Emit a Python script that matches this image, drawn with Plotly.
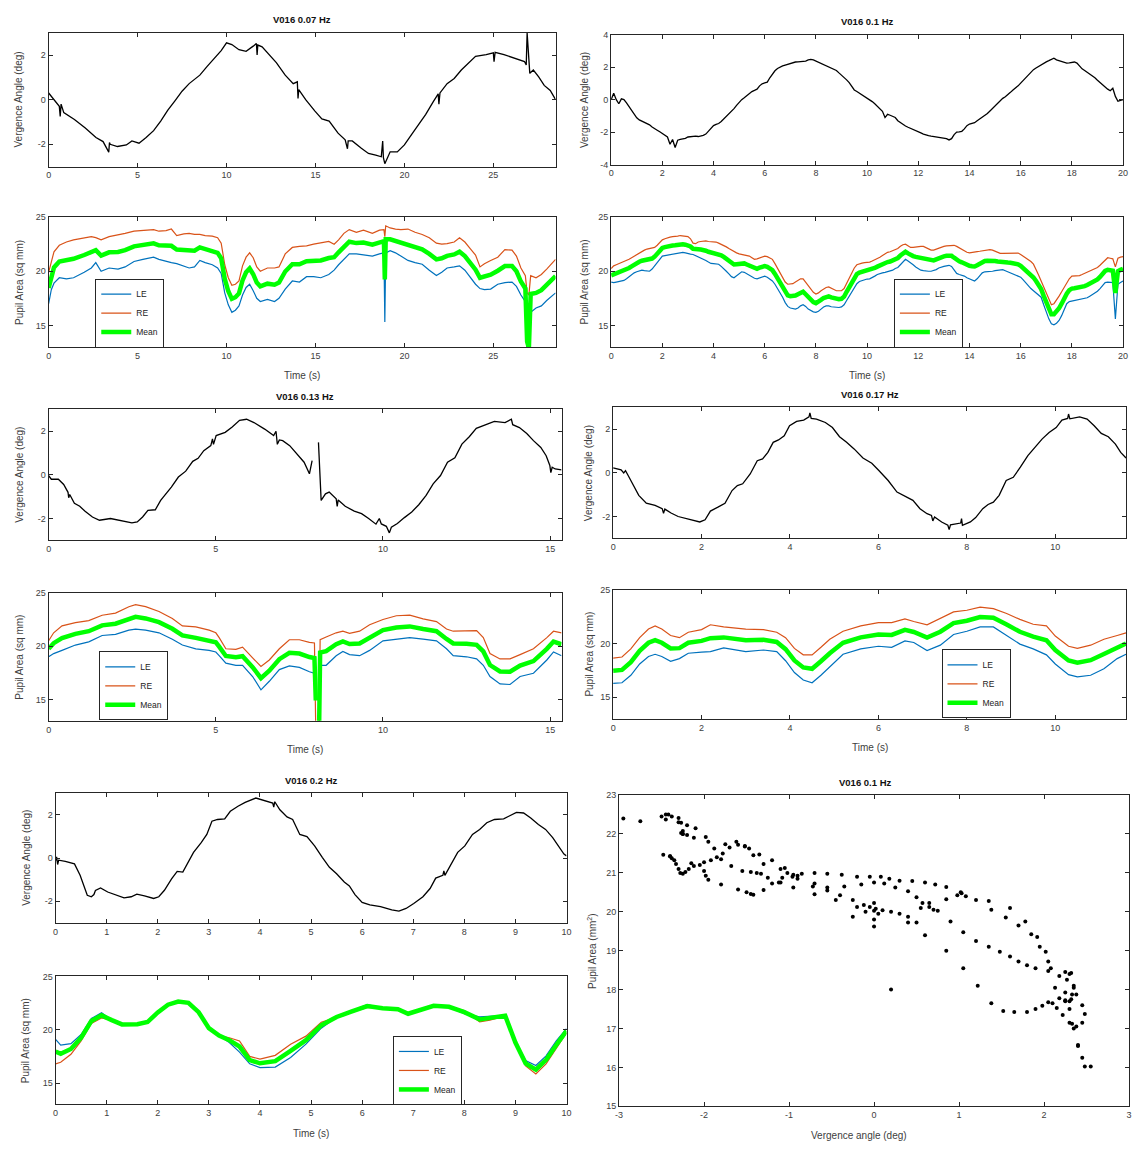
import math
import plotly.graph_objects as go

# ----------------------------------------------------------------- data
# Vergence traces: (time s, vergence deg)
VERG_007 = [(0.0, 0.3), (0.3, 0.0), (0.6, -0.3), (0.65, -0.75), (0.7, -0.2), (0.85, -0.58), (1.45, -0.89),
            (2.06, -1.27), (2.66, -1.7), (3.06, -1.88), (3.38, -2.35), (3.42, -1.92), (3.46, -2.0), (3.87, -2.1),
            (4.37, -2.03), (4.68, -1.85), (5.08, -1.95), (5.48, -1.7), (5.9, -1.39), (6.3, -0.96), (6.7, -0.47),
            (7.1, -0.05), (7.5, 0.38), (7.9, 0.72), (8.5, 1.1), (8.9, 1.48), (9.3, 1.86), (9.7, 2.2), (10.0, 2.55),
            (10.3, 2.47), (10.7, 2.24), (11.1, 2.17), (11.5, 2.4), (11.68, 2.52), (11.72, 2.0), (11.76, 2.45),
            (12.0, 2.37), (12.4, 2.0), (12.8, 1.66), (13.3, 1.1), (13.75, 0.72), (13.98, 0.8), (14.02, 0.05),
            (14.06, 0.45), (14.45, 0.0), (14.96, -0.5), (15.36, -0.86), (15.77, -0.96), (16.27, -1.5),
            (16.67, -1.8), (16.8, -2.2), (16.84, -1.85), (17.07, -1.85), (17.58, -2.18), (17.98, -2.41),
            (18.39, -2.49), (18.7, -2.56), (18.78, -1.85), (18.82, -2.6), (18.9, -2.87), (19.2, -2.34),
            (19.6, -2.34), (20.0, -2.03), (20.4, -1.57), (20.8, -1.11), (21.2, -0.66), (21.6, -0.12), (21.9, 0.26),
            (21.94, -0.2), (22.0, 0.3), (22.4, 0.72), (22.8, 0.95), (23.2, 1.33), (23.6, 1.63), (24.0, 1.94),
            (24.6, 2.02), (25.0, 2.1), (25.04, 1.7), (25.1, 2.12), (25.6, 2.02), (26.25, 1.86), (26.75, 1.71),
            (26.85, 1.56), (26.9, 3.0), (27.05, 1.18), (27.25, 1.33), (27.55, 1.02), (27.86, 0.64), (28.2, 0.41),
            (28.5, 0.0)]

VERG_013 = [(0.0, -0.03), (0.08, -0.2), (0.29, -0.2), (0.45, -0.44), (0.58, -0.8), (0.6, -1.05), (0.63, -0.9),
            (0.77, -1.3), (0.93, -1.44), (1.09, -1.67), (1.31, -1.93), (1.52, -2.08), (1.85, -2.0), (2.17, -2.11),
            (2.49, -2.2), (2.65, -2.16), (2.81, -1.93), (2.97, -1.63), (3.19, -1.6), (3.35, -1.17), (3.51, -0.87),
            (3.67, -0.56), (3.88, -0.1), (4.1, 0.17), (4.31, 0.62), (4.47, 0.76), (4.64, 1.11), (4.85, 1.34),
            (4.9, 1.65), (4.93, 1.4), (5.01, 1.8), (5.28, 1.95), (5.49, 2.2), (5.71, 2.5), (5.92, 2.55),
            (6.14, 2.4), (6.46, 2.1), (6.73, 1.8), (6.8, 2.0), (6.84, 1.4), (6.9, 1.6), (7.0, 1.57), (7.21, 1.34),
            (7.42, 0.96), (7.64, 0.58), (7.8, 0.05), (7.88, 0.65), (7.95, None), (8.07, 1.49), (8.15, -1.17),
            (8.28, -0.87), (8.39, -0.79), (8.6, -1.1), (8.63, -1.45), (8.66, -1.15), (8.87, -1.44), (9.14, -1.66),
            (9.36, -1.78), (9.57, -2.0), (9.79, -2.26), (9.89, -2.0), (9.95, -2.25), (10.1, -2.36), (10.19, -2.66),
            (10.25, -2.4), (10.43, -2.23), (10.64, -1.96), (10.86, -1.7), (11.07, -1.37), (11.29, -0.94),
            (11.5, -0.41), (11.72, -0.03), (11.93, 0.58), (12.15, 0.78), (12.36, 1.41), (12.58, 1.75),
            (12.79, 2.13), (13.0, 2.25), (13.33, 2.45), (13.65, 2.4), (13.84, 2.55), (13.88, 2.3), (14.08, 2.17),
            (14.3, 1.9), (14.5, 1.57), (14.72, 1.26), (14.88, 0.88), (14.99, 0.43), (15.02, 0.1), (15.06, 0.35),
            (15.15, 0.27), (15.34, 0.23)]

VERG_017 = [(0.0, 0.23), (0.18, 0.14), (0.24, 0.0), (0.28, 0.1), (0.34, -0.12), (0.46, -0.58), (0.58, -1.03),
            (0.75, -1.39), (0.95, -1.49), (1.11, -1.64), (1.14, -1.85), (1.17, -1.66), (1.31, -1.84), (1.47, -2.0),
            (1.72, -2.13), (1.96, -2.25), (2.08, -2.15), (2.2, -1.75), (2.37, -1.57), (2.53, -1.39), (2.69, -0.81),
            (2.81, -0.58), (2.93, -0.5), (3.1, -0.05), (3.26, 0.56), (3.38, 0.64), (3.5, 0.94), (3.62, 1.4),
            (3.74, 1.51), (3.87, 1.7), (3.99, 2.16), (4.15, 2.36), (4.31, 2.42), (4.43, 2.57), (4.45, 2.75),
            (4.48, 2.5), (4.6, 2.47), (4.8, 2.31), (4.96, 2.08), (5.12, 1.66), (5.28, 1.4), (5.45, 1.1),
            (5.65, 0.68), (5.85, 0.44), (6.01, 0.11), (6.22, -0.35), (6.42, -0.88), (6.62, -1.11), (6.78, -1.26),
            (6.94, -1.64), (7.1, -1.87), (7.2, -1.95), (7.23, -2.2), (7.27, -2.02), (7.43, -2.25), (7.57, -2.4),
            (7.6, -2.6), (7.63, -2.38), (7.71, -2.36), (7.86, -2.3), (7.88, -2.1), (7.9, -2.4), (8.08, -2.25),
            (8.2, -2.05), (8.36, -1.64), (8.48, -1.45), (8.6, -1.34), (8.73, -1.03), (8.89, -0.35), (9.05, -0.2),
            (9.21, 0.26), (9.38, 0.79), (9.54, 1.17), (9.7, 1.55), (9.86, 1.85), (10.02, 2.08), (10.15, 2.42),
            (10.28, 2.5), (10.3, 2.7), (10.33, 2.48), (10.55, 2.57), (10.72, 2.47), (10.88, 2.16), (11.04, 1.81),
            (11.2, 1.66), (11.36, 1.32), (11.48, 0.94), (11.6, 0.68)]

VERG_020 = [(0.0, -0.12), (0.02, 0.05), (0.04, -0.3), (0.06, -0.1), (0.19, -0.15), (0.37, -0.27), (0.48, -0.8),
            (0.55, -1.26), (0.62, -1.72), (0.7, -1.79), (0.75, -1.69), (0.78, -1.5), (0.88, -1.38), (1.02, -1.57),
            (1.2, -1.72), (1.34, -1.84), (1.48, -1.79), (1.59, -1.67), (1.74, -1.75), (1.92, -1.87), (2.02, -1.79),
            (2.13, -1.49), (2.27, -0.96), (2.38, -0.62), (2.49, -0.65), (2.6, -0.2), (2.7, 0.26), (2.85, 0.71),
            (2.96, 1.09), (3.06, 1.7), (3.17, 1.78), (3.31, 1.81), (3.42, 2.16), (3.57, 2.39), (3.71, 2.57),
            (3.92, 2.77), (4.07, 2.66), (4.25, 2.54), (4.27, 2.35), (4.29, 2.6), (4.39, 2.23), (4.53, 1.9),
            (4.64, 1.78), (4.78, 1.09), (4.92, 0.99), (5.07, 0.56), (5.22, 0.03), (5.36, -0.43), (5.5, -0.73),
            (5.65, -1.11), (5.75, -1.29), (5.86, -1.69), (6.0, -2.05), (6.15, -2.17), (6.36, -2.25), (6.58, -2.4),
            (6.72, -2.45), (6.86, -2.33), (7.01, -2.1), (7.19, -1.79), (7.33, -1.41), (7.44, -0.93), (7.58, -0.8),
            (7.6, -0.6), (7.62, -0.8), (7.73, -0.35), (7.87, 0.26), (8.01, 0.56), (8.16, 1.09), (8.3, 1.32),
            (8.44, 1.63), (8.59, 1.78), (8.77, 1.81), (8.87, 1.93), (9.02, 2.11), (9.16, 2.08), (9.3, 1.85),
            (9.45, 1.55), (9.59, 1.32), (9.73, 0.94), (9.84, 0.56), (9.95, 0.18), (10.0, 0.1)]

# Pupil traces: (time s, LE sq mm, RE sq mm)
PUPIL_007 = [(0.0, 17.0, 19.9), (0.15, 18.3, 21.0), (0.3, 18.9, 21.8), (0.6, 19.4, 22.4), (1.0, 19.3, 22.7),
             (1.4, 19.4, 22.9), (2.0, 19.9, 23.1), (2.4, 20.3, 23.2), (2.65, 20.8, 23.1), (2.95, 20.0, 22.9),
             (3.4, 20.3, 23.2), (3.9, 20.2, 23.35), (4.3, 20.4, 23.5), (4.8, 20.9, 23.7), (5.3, 21.1, 23.75),
             (5.9, 21.3, 23.85), (6.2, 21.1, 23.7), (6.6, 20.9, 23.75), (6.9, 20.8, 23.9), (7.2, 20.7, 23.3),
             (7.6, 20.5, 23.45), (7.9, 20.3, 23.5), (8.2, 20.4, 23.4), (8.5, 21.0, 23.4), (8.8, 20.8, 23.3),
             (9.2, 20.6, 23.25), (9.5, 20.3, 23.1), (9.7, 19.8, 22.6), (9.9, 18.0, 20.6), (10.1, 16.9, 19.4),
             (10.3, 16.2, 18.7), (10.5, 16.4, 18.8), (10.7, 16.8, 19.1), (10.9, 17.8, 20.5), (11.1, 18.5, 21.3),
             (11.3, 18.8, 21.7), (11.5, 18.2, 21.25), (11.7, 17.5, 20.4), (11.9, 17.2, 20.0), (12.3, 17.4, 20.3),
             (12.7, 17.2, 20.3), (12.95, 17.5, 20.4), (13.3, 18.35, 21.6), (13.7, 19.1, 22.2), (14.1, 19.0, 22.3),
             (14.5, 19.5, 22.35), (14.9, 19.5, 22.5), (15.3, 19.4, 22.6), (15.75, 19.7, 22.75), (16.05, 20.1, 22.5),
             (16.3, 20.6, 22.9), (16.6, 21.1, 23.5), (16.9, 21.6, 23.85), (17.3, 21.6, 23.6), (17.7, 21.5, 23.8),
             (18.2, 21.4, 23.5), (18.6, 21.6, 23.8), (18.85, 21.7, 23.85), (18.9, 15.3, 23.2), (18.95, 21.7, 24.2),
             (19.2, 21.9, 24.0), (19.5, 21.7, 23.9), (19.8, 21.4, 23.85), (20.2, 21.0, 23.9), (20.6, 20.8, 23.6),
             (21.0, 20.65, 23.4), (21.4, 20.1, 23.1), (21.8, 19.6, 22.6), (22.1, 19.9, 22.5), (22.4, 20.3, 22.55),
             (22.8, 20.4, 22.7), (23.1, 20.5, 23.1), (23.4, 20.1, 22.7), (23.7, 19.4, 22.1), (24.0, 18.8, 21.5),
             (24.25, 18.4, 20.4), (24.5, 18.3, 20.7), (24.85, 18.35, 21.0), (25.25, 18.8, 21.3), (25.65, 18.95, 22.0),
             (26.05, 19.0, 21.95), (26.3, 18.6, 21.4), (26.55, 17.8, 20.3), (26.8, 17.2, 19.6), (26.9, 9.0, 18.0),
             (27.0, 8.0, 17.8), (27.1, 16.2, 19.6), (27.4, 16.6, 19.4), (27.7, 16.8, 19.7), (28.0, 17.3, 20.2),
             (28.5, 18.0, 21.1)]

PUPIL_013 = [(0.0, 19.0, 20.5), (0.15, 19.3, 21.25), (0.4, 19.6, 21.9), (0.8, 20.1, 22.2), (1.2, 20.4, 22.4),
             (1.6, 21.0, 22.9), (2.0, 21.1, 23.1), (2.4, 21.5, 23.7), (2.6, 21.6, 23.9), (2.9, 21.5, 23.7),
             (3.3, 21.25, 23.25), (3.7, 20.65, 22.6), (4.0, 20.1, 21.9), (4.4, 19.75, 21.8), (4.8, 19.6, 21.5),
             (5.0, 19.45, 21.25), (5.1, 19.1, 20.8), (5.3, 18.4, 19.75), (5.6, 18.2, 19.7), (5.8, 18.2, 19.9),
             (6.1, 17.15, 18.9), (6.35, 15.9, 18.1), (6.6, 16.7, 18.7), (6.9, 17.8, 19.75), (7.2, 18.15, 20.6),
             (7.5, 18.0, 20.6), (7.8, 17.6, 20.35), (7.95, 17.45, 20.3), (7.99, 17.8, 12.0), (8.03, None, None),
             (8.07, 8.0, 8.0), (8.12, 18.2, 20.6), (8.3, 18.2, 20.85), (8.6, 19.1, 21.25), (8.8, 19.5, 21.4),
             (9.0, 19.2, 21.2), (9.3, 19.1, 21.4), (9.6, 19.6, 22.0), (10.0, 20.5, 22.5), (10.4, 20.65, 22.85),
             (10.8, 20.8, 22.9), (11.2, 20.65, 22.55), (11.6, 20.5, 22.3), (11.9, 19.75, 21.6), (12.1, 19.1, 21.4),
             (12.5, 19.0, 21.45), (12.8, 18.8, 21.45), (13.0, 18.2, 20.8), (13.2, 17.15, 19.3), (13.5, 16.45, 18.8),
             (13.8, 16.4, 18.8), (14.1, 17.15, 19.2), (14.5, 17.45, 19.75), (14.9, 18.7, 20.8), (15.1, 19.45, 21.4),
             (15.34, 19.1, 21.25)]

PUPIL_017 = [(0.0, 16.3, 18.65), (0.2, 16.35, 18.75), (0.4, 17.05, 19.5), (0.6, 18.1, 20.55), (0.8, 18.8, 21.35),
             (0.95, 19.0, 21.65), (1.1, 18.8, 21.35), (1.3, 18.35, 20.75), (1.5, 18.6, 20.55), (1.7, 19.1, 21.05),
             (2.0, 19.2, 21.3), (2.2, 19.25, 21.75), (2.5, 19.6, 21.55), (3.0, 19.25, 21.35), (3.4, 19.4, 21.3),
             (3.7, 19.25, 21.05), (3.9, 18.4, 20.55), (4.1, 17.3, 19.55), (4.3, 16.6, 18.95), (4.5, 16.35, 18.95),
             (4.7, 17.05, 19.65), (4.9, 17.8, 20.4), (5.2, 19.0, 21.15), (5.6, 19.5, 21.65), (6.0, 19.75, 21.95),
             (6.3, 19.65, 21.95), (6.6, 20.25, 22.3), (6.8, 20.1, 22.05), (7.1, 19.35, 21.75), (7.4, 19.85, 22.35),
             (7.7, 20.85, 22.95), (8.0, 21.15, 23.1), (8.3, 21.55, 23.4), (8.6, 21.55, 23.25), (8.9, 20.75, 22.8),
             (9.2, 19.95, 22.25), (9.5, 19.5, 21.8), (9.8, 18.95, 21.65), (10.0, 18.1, 20.7), (10.3, 17.1, 19.75),
             (10.5, 16.9, 19.55), (10.8, 17.05, 19.85), (11.1, 17.65, 20.4), (11.4, 18.6, 20.75), (11.6, 19.0, 21.0)]

PUPIL_020 = [(0.0, 19.1, 16.8), (0.1, 18.55, 16.95), (0.3, 18.7, 17.7), (0.5, 19.55, 18.95), (0.7, 21.05, 20.6),
             (0.9, 21.6, 21.1), (1.1, 20.9, 20.9), (1.3, 20.5, 20.5), (1.6, 20.45, 20.6), (1.8, 20.7, 20.75),
             (2.0, 21.65, 21.6), (2.2, 22.4, 22.3), (2.4, 22.7, 22.6), (2.6, 22.6, 22.45), (2.8, 21.65, 21.65),
             (3.0, 20.15, 20.15), (3.2, 19.45, 19.45), (3.4, 18.8, 19.25), (3.6, 17.9, 18.95), (3.8, 16.8, 17.5),
             (4.0, 16.45, 17.25), (4.3, 16.5, 17.6), (4.6, 17.4, 18.65), (4.9, 18.65, 19.4), (5.2, 20.15, 20.7),
             (5.5, 21.2, 21.2), (5.8, 21.8, 21.65), (6.1, 22.35, 22.1), (6.4, 22.05, 22.0), (6.7, 21.95, 21.9),
             (6.9, 21.5, 21.5), (7.1, 21.8, 21.8), (7.4, 22.25, 22.25), (7.7, 22.1, 22.2), (8.0, 21.5, 21.8),
             (8.3, 21.2, 20.75), (8.5, 21.25, 20.9), (8.8, 21.35, 21.3), (9.0, 18.95, 18.65), (9.2, 17.1, 16.6),
             (9.4, 16.65, 15.85), (9.6, 17.55, 16.8), (9.8, 18.95, 18.2), (10.0, 20.1, 19.7)]

# 0.1 Hz condition: samples every 0.1 s from 0 to 20 s (vergence + pupils; also used for the scatter)
SAMPLE_STEP_010 = 0.1
VERG_010 = [
    0.0, 0.4, 0.0, -0.25, 0.05, 0.0, -0.2, -0.45, -0.7, -0.95,
    -1.12, -1.25, -1.33, -1.38, -1.45, -1.55, -1.68, -1.8, -1.88, -1.98,
    -2.1, -2.2, -2.3, -2.75, -2.45, -2.95, -2.5, -2.45, -2.42, -2.38,
    -2.3, -2.27, -2.25, -2.25, -2.27, -2.25, -2.2, -2.12, -1.95, -1.75,
    -1.6, -1.52, -1.47, -1.35, -1.2, -1.05, -0.9, -0.7, -0.55, -0.35,
    -0.15, 0.0, 0.12, 0.25, 0.4, 0.5, 0.57, 0.65, 0.85, 0.98,
    1.03, 1.08, 1.35, 1.6, 1.78, 1.92, 2.02, 2.08, 2.13, 2.18,
    2.25, 2.3, 2.32, 2.33, 2.35, 2.35, 2.38, 2.45, 2.48, 2.45,
    2.38, 2.3, 2.22, 2.15, 2.1, 2.05, 1.98, 1.9, 1.8, 1.65,
    1.52, 1.38, 1.22, 1.05, 0.85, 0.6, 0.5, 0.4, 0.3, 0.2,
    0.1, 0.02, -0.12, -0.25, -0.4, -0.55, -0.72, -1.1, -0.9, -0.96,
    -1.02, -1.1, -1.3, -1.42, -1.52, -1.62, -1.7, -1.78, -1.85, -1.92,
    -2.0, -2.05, -2.12, -2.18, -2.22, -2.25, -2.28, -2.3, -2.33, -2.35,
    -2.38, -2.4, -2.48, -2.4, -2.15, -2.0, -1.98, -1.95, -1.8, -1.6,
    -1.5, -1.45, -1.42, -1.3, -1.2, -1.08, -0.95, -0.85, -0.7, -0.55,
    -0.38, -0.2, -0.05, 0.08, 0.18, 0.3, 0.45, 0.6, 0.72, 0.85,
    1.02, 1.2, 1.38, 1.55, 1.7, 1.85, 1.95, 2.05, 2.18, 2.25,
    2.33, 2.4, 2.48, 2.55, 2.45, 2.4, 2.35, 2.3, 2.25, 2.27,
    2.3, 2.32, 2.25, 2.05, 1.9, 1.8, 1.7, 1.6, 1.48, 1.35,
    1.2, 1.05, 0.9, 0.75, 0.65, 0.55, 0.7, 0.2, -0.1, -0.05,
    0.0]
RE_010 = [
    20.25, 20.5, 20.6, 20.7, 20.8, 20.9, 20.95, 21.1, 21.25, 21.4,
    21.55, 21.7, 21.85, 21.95, 22.05, 22.1, 22.15, 22.2, 22.4, 22.7,
    22.9, 23.0, 23.1, 23.15, 23.2, 23.2, 23.25, 23.3, 23.25, 23.2,
    23.2, 23.0, 22.6, 22.55, 22.7, 22.75, 22.8, 22.8, 22.75, 22.75,
    22.75, 22.7, 22.6, 22.5, 22.4, 22.25, 22.1, 21.95, 21.85, 21.7,
    21.6, 21.55, 21.55, 21.5, 21.4, 21.25, 21.1, 21.15, 21.25, 21.35,
    21.4, 21.35, 21.25, 21.1, 20.7, 20.3, 19.9, 19.5, 19.0, 18.8,
    18.8, 18.85, 19.0, 19.15, 19.3, 19.3, 19.0, 18.7, 18.4, 18.05,
    17.9, 18.0, 18.2, 18.35, 18.5, 18.55, 18.45, 18.3, 18.2, 18.2,
    18.2, 18.4, 18.9, 19.4, 19.9, 20.3, 20.6, 20.7, 20.75, 20.8,
    20.8, 20.85, 20.95, 21.05, 21.15, 21.3, 21.45, 21.6, 21.75, 21.8,
    21.9, 21.95, 22.1, 22.3, 22.45, 22.5, 22.35, 22.2, 22.2, 22.25,
    22.3, 22.3, 22.3, 22.2, 22.05, 21.95, 21.95, 22.05, 22.15, 22.25,
    22.3, 22.35, 22.38, 22.4, 22.4, 22.3, 22.15, 22.0, 21.85, 21.75,
    21.7, 21.72, 21.78, 21.82, 21.85, 21.9, 21.95, 22.0, 22.0, 21.95,
    21.85, 21.7, 21.65, 21.65, 21.65, 21.65, 21.68, 21.7, 21.7, 21.68,
    21.55, 21.4, 21.2, 21.05, 20.9, 20.65, 20.2, 19.65, 19.1, 18.55,
    18.05, 17.5, 16.9, 17.0, 17.3, 17.7, 18.1, 18.5, 18.85, 19.3,
    19.55, 19.55, 19.55, 19.6, 19.7, 19.8, 19.9, 20.0, 20.1, 20.2,
    20.35, 20.55, 20.8, 21.1, 21.25, 21.2, 21.15, 20.4, 21.2, 21.3,
    21.35]
LE_010 = [
    19.0, 18.95, 19.0, 19.05, 19.1, 19.15, 19.3, 19.5, 19.65, 19.85,
    19.95, 20.05, 20.1, 20.05, 20.0, 20.0, 20.2, 20.5, 20.85, 21.15,
    21.4, 21.45, 21.5, 21.5, 21.55, 21.6, 21.65, 21.7, 21.75, 21.7,
    21.62, 21.58, 21.55, 21.45, 21.35, 21.25, 21.15, 21.0, 20.85, 20.72,
    20.7, 20.68, 20.65, 20.45, 20.25, 20.0, 19.75, 19.5, 19.4, 19.6,
    19.8, 19.95, 19.9, 19.75, 19.65, 19.5, 19.35, 19.3, 19.4, 19.5,
    19.55, 19.45, 19.3, 19.1, 18.8, 18.4, 18.05, 17.6, 17.1, 16.75,
    16.6, 16.55, 16.5, 16.6, 16.8, 16.9, 16.75, 16.5, 16.35, 16.25,
    16.2, 16.3, 16.5, 16.7, 16.8, 16.8, 16.72, 16.7, 16.65, 16.65,
    16.7, 16.9, 17.3, 17.7, 18.1, 18.5, 18.85, 19.05, 19.15, 19.2,
    19.28, 19.3, 19.4, 19.55, 19.7, 19.8, 19.85, 19.9, 19.95, 20.0,
    20.1, 20.25, 20.35, 20.6, 20.9, 21.1, 20.95, 20.8, 20.6, 20.4,
    20.25, 20.1, 20.05, 20.0, 20.0, 20.0, 20.05, 20.15, 20.3, 20.4,
    20.45, 20.5, 20.55, 20.45, 20.1, 19.8, 19.7, 19.65, 19.55, 19.4,
    19.3, 19.2, 19.1, 19.3, 19.6, 19.85, 19.95, 19.95, 20.0, 20.0,
    20.05, 20.1, 20.15, 20.15, 20.05, 19.95, 19.9, 19.8, 19.7, 19.6,
    19.45, 19.2, 18.9, 18.65, 18.4, 18.2, 18.0, 17.8, 17.6, 16.9,
    16.2, 15.6, 15.15, 15.05, 15.2, 15.45, 15.9, 16.5, 17.0, 17.2,
    17.25, 17.3, 17.35, 17.35, 17.4, 17.45, 17.55, 17.7, 17.85, 18.0,
    18.15, 18.4, 18.7, 18.95, 19.0, 19.0, 18.95, 15.6, 18.8, 18.95,
    19.1]

TITLES = ["V016 0.07 Hz", "V016 0.1 Hz", "V016 0.13 Hz", "V016 0.17 Hz", "V016 0.2 Hz", "V016 0.1 Hz"]
SERIES_NAMES = ["LE", "RE", "Mean"]

# ----------------------------------------------------------------- style
FIG_W, FIG_H = 1134, 1149
FONT = "Liberation Sans, Arial, Helvetica, sans-serif"
C_LE, C_RE, C_MEAN = "#0072BD", "#D95319", "#00FF00"
AX_COLOR = "#262626"
TXT_COLOR = "#404040"


def split2(pairs):
    return [p[0] for p in pairs], [p[1] for p in pairs]


def split3(rows):
    return [r[0] for r in rows], [r[1] for r in rows], [r[2] for r in rows]


def mean_of(a, b):
    return [None if (x is None or y is None) else (x + y) / 2.0 for x, y in zip(a, b)]


def xdom(l, r):
    return [l / FIG_W, min(r / FIG_W, 1.0)]


def ydom(top, bottom):
    return [1 - bottom / FIG_H, 1 - top / FIG_H]


def ticks(lo, hi, step):
    start = math.ceil(lo / step - 1e-9) * step
    vals = []
    v = start
    while v <= hi + 1e-9:
        vals.append(round(v, 6))
        v += step
    txt = [str(int(round(t))) if abs(t - round(t)) < 1e-9 else str(t) for t in vals]
    return vals, txt


def axis(domain, anchor, rng, step):
    tv, tt = ticks(rng[0], rng[1], step)
    return dict(domain=domain, anchor=anchor, range=rng, tickvals=tv, ticktext=tt,
                showline=True, linecolor=AX_COLOR, linewidth=1, mirror="ticks",
                ticks="inside", ticklen=4, tickwidth=1, tickcolor=AX_COLOR,
                tickfont=dict(size=9, color=TXT_COLOR, family=FONT),
                showgrid=False, zeroline=False, fixedrange=True)


fig = go.Figure()
layout = dict(width=FIG_W, height=FIG_H, autosize=False, margin=dict(l=0, r=0, t=0, b=0),
              paper_bgcolor="white", plot_bgcolor="white", font=dict(family=FONT, color=TXT_COLOR),
              showlegend=True)
annotations = []


def ann(text, xp, yp, size, bold=False, angle=0, color=TXT_COLOR):
    annotations.append(dict(text=("<b>%s</b>" % text) if bold else text, x=xp / FIG_W, y=1 - yp / FIG_H,
                            xref="paper", yref="paper", showarrow=False, xanchor="center", yanchor="middle",
                            textangle=angle, font=dict(size=size, family=FONT, color=color)))


# panel geometry (pixels) -------------------------------------------------
PANELS = [
    dict(title=TITLES[0], verg=split2(VERG_007), pupil=split3(PUPIL_007), xmax=28.5, xstep=5, vr=[-3, 3],
         xpx=(45, 556), vy=(28, 163), py=(214, 345), leg=(92, 276), ylab=15, n=1),
    dict(title=TITLES[1], verg=None, pupil=None, xmax=20, xstep=2, vr=[-4, 4],
         xpx=(612, 1128), vy=(30, 161), py=(214, 345), leg=(897, 276), ylab=585, n=3),
    dict(title=TITLES[2], verg=split2(VERG_013), pupil=split3(PUPIL_013), xmax=15.34, xstep=5, vr=[-3, 3],
         xpx=(45, 562), vy=(408, 540), py=(593, 722), leg=(96, 652), ylab=16, n=5),
    dict(title=TITLES[3], verg=split2(VERG_017), pupil=split3(PUPIL_017), xmax=11.6, xstep=2, vr=[-3, 3],
         xpx=(614, 1131), vy=(406, 538), py=(590, 720), leg=(945, 650), ylab=590, n=7),
    dict(title=TITLES[4], verg=split2(VERG_020), pupil=split3(PUPIL_020), xmax=10, xstep=1, vr=[-3, 3],
         xpx=(52, 567), vy=(795, 926), py=(980, 1109), leg=(392, 1040), ylab=22, n=9),
]

T_010 = [round(i * SAMPLE_STEP_010, 1) for i in range(len(VERG_010))]
PANELS[1]["verg"] = (T_010, VERG_010)
PANELS[1]["pupil"] = (T_010, LE_010, RE_010)

legend_names = ["legend", "legend2", "legend3", "legend4", "legend5"]

for i, p in enumerate(PANELS):
    nv, npup = p["n"], p["n"] + 1
    xv, yv = "x%d" % nv if nv > 1 else "x", "y%d" % nv if nv > 1 else "y"
    xp, yp = "x%d" % npup, "y%d" % npup
    xd = xdom(*p["xpx"])
    layout["xaxis%s" % ("" if nv == 1 else nv)] = axis(xd, yv, [0, p["xmax"]], p["xstep"])
    layout["yaxis%s" % ("" if nv == 1 else nv)] = axis(ydom(*p["vy"]), xv, p["vr"], 2)
    layout["xaxis%d" % npup] = axis(xd, yp, [0, p["xmax"]], p["xstep"])
    layout["yaxis%d" % npup] = axis(ydom(*p["py"]), xp, [13, 25], 5)

    tv, vv = p["verg"]
    fig.add_trace(go.Scatter(x=tv, y=vv, mode="lines", line=dict(color="black", width=1.3),
                             xaxis=xv, yaxis=yv, showlegend=False, connectgaps=False))
    tp, le, re_ = p["pupil"]
    mn = mean_of(le, re_)
    lg = legend_names[i]
    for name, ys, col, w in [(SERIES_NAMES[0], le, C_LE, 1.2), (SERIES_NAMES[1], re_, C_RE, 1.2),
                             (SERIES_NAMES[2], mn, C_MEAN, 4.5)]:
        fig.add_trace(go.Scatter(x=tp, y=ys, mode="lines", name=name, line=dict(color=col, width=w),
                                 xaxis=xp, yaxis=yp, legend=lg, connectgaps=False))

    lx, ly = p["leg"]
    layout[lg] = dict(x=lx / FIG_W, y=1 - ly / FIG_H, xanchor="left", yanchor="top",
                      bordercolor=AX_COLOR, borderwidth=1, bgcolor="white",
                      font=dict(size=8.5, family=FONT, color="#222222"), tracegroupgap=0, itemwidth=30)

    cx = (p["xpx"][0] + p["xpx"][1]) / 2
    ann(p["title"], cx, p["vy"][0] - 13, 9.5, bold=True, color="#111111")
    ann("Vergence Angle (deg)", p["ylab"], (p["vy"][0] + p["vy"][1]) / 2, 10, angle=-90)
    ann("Pupil Area (sq mm)", p["ylab"], (p["py"][0] + p["py"][1]) / 2, 10, angle=-90)
    ann("Time (s)", cx, p["py"][1] + 29, 10)

# scatter panel: vergence vs mean pupil area, 0.1 Hz condition
MEAN_010 = mean_of(LE_010, RE_010)
layout["xaxis11"] = axis(xdom(620, 1136), "y11", [-3, 3], 1)
layout["yaxis11"] = axis(ydom(797, 1111), "x11", [15, 23], 1)
fig.add_trace(go.Scatter(x=VERG_010, y=MEAN_010, mode="markers",
                         marker=dict(color="black", size=4), xaxis="x11", yaxis="y11", showlegend=False))
ann(TITLES[5], 868, 784, 9.5, bold=True, color="#111111")
ann("Pupil Area (mm<sup>2</sup>)", 592, 954, 10, angle=-90)
ann("Vergence angle (deg)", 862, 1140, 10)

layout["annotations"] = annotations
fig.update_layout(**layout)

fig.write_html("out.html", config={"displayModeBar": False},
               post_script="document.body.style.margin='0px';document.body.style.overflow='hidden';")
